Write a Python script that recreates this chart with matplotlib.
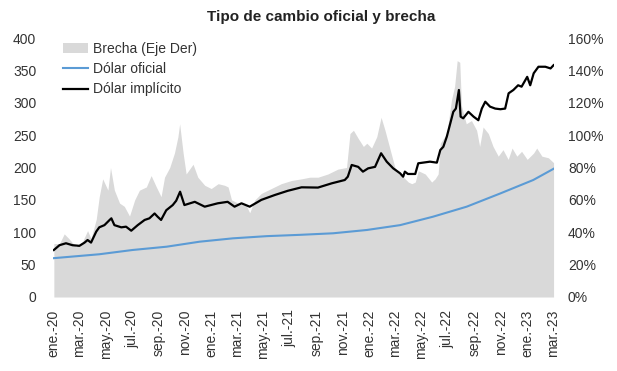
import matplotlib
matplotlib.use('Agg')
import matplotlib.pyplot as plt
from matplotlib.patches import Patch
from matplotlib.lines import Line2D
import numpy as np
import pandas as pd

plt.rcParams['font.family'] = ['Liberation Sans', 'DejaVu Sans']

# brecha (% sobre el oficial, eje derecho)
brecha_fechas = [
    '2020-01-02', '2020-01-15', '2020-01-26', '2020-02-06', '2020-02-22', '2020-03-08',
    '2020-03-20', '2020-03-28', '2020-04-09', '2020-04-16', '2020-04-24', '2020-05-06',
    '2020-05-12', '2020-05-21', '2020-06-02', '2020-06-13', '2020-06-25', '2020-07-07',
    '2020-07-18', '2020-08-03', '2020-08-14', '2020-08-26', '2020-09-06', '2020-09-14',
    '2020-09-26', '2020-10-07', '2020-10-15', '2020-10-19', '2020-10-27', '2020-11-03',
    '2020-11-19', '2020-11-30', '2020-12-16', '2020-12-31', '2021-01-16', '2021-01-31',
    '2021-02-08', '2021-02-16', '2021-03-03', '2021-03-23', '2021-03-30', '2021-04-11',
    '2021-04-26', '2021-05-19', '2021-06-11', '2021-07-05', '2021-07-28', '2021-08-16',
    '2021-09-04', '2021-09-27', '2021-10-20', '2021-11-09', '2021-11-17', '2021-11-25',
    '2021-12-06', '2021-12-18', '2021-12-26', '2022-01-06', '2022-01-18', '2022-01-28',
    '2022-02-06', '2022-02-18', '2022-03-01', '2022-03-17', '2022-04-01', '2022-04-09',
    '2022-04-17', '2022-04-24', '2022-05-10', '2022-05-25', '2022-06-02', '2022-06-09',
    '2022-06-14', '2022-06-29', '2022-07-10', '2022-07-17', '2022-07-23', '2022-07-29',
    '2022-08-02', '2022-08-13', '2022-08-25', '2022-09-06', '2022-09-13', '2022-09-21',
    '2022-10-03', '2022-10-14', '2022-10-26', '2022-11-06', '2022-11-18', '2022-11-27',
    '2022-12-08', '2022-12-19', '2023-01-01', '2023-01-16', '2023-01-23', '2023-02-04',
    '2023-02-19', '2023-03-03',
]
brecha = [
    33, 33, 39, 36, 31, 34,
    41, 36, 48, 62, 73, 66,
    80, 66, 58, 56, 50, 60,
    66, 68, 75, 68, 62, 74,
    80, 89, 99, 107, 89, 76,
    82, 74, 69, 67, 70, 69,
    68, 60, 58, 56, 52, 60,
    64, 67, 70, 72, 73, 74,
    74, 76, 79, 80, 101, 103,
    98, 93, 95, 92, 99, 111,
    103, 91, 80, 75, 71, 70,
    71, 78, 76, 71, 73, 76,
    95, 101, 122, 130, 146, 145,
    118, 107, 109, 103, 93, 105,
    101, 93, 87, 91, 85, 92,
    87, 90, 85, 89, 92, 87,
    86, 83,
]

# dólar oficial
oficial_fechas = [
    '2020-01-02', '2020-04-16', '2020-07-02', '2020-09-19', '2020-12-04', '2021-02-19',
    '2021-05-09', '2021-07-24', '2021-10-09', '2021-12-26', '2022-03-13', '2022-05-28',
    '2022-08-14', '2022-10-31', '2023-01-15', '2023-03-03',
]
oficial = [60, 66, 72.6, 77.7, 85.4, 90.6, 94, 96, 98.4, 103.5, 111, 124, 139.5, 160, 180.7, 198]

# dólar implícito
implicito_fechas = [
    '2020-01-02', '2020-01-15', '2020-01-30', '2020-02-14', '2020-03-01', '2020-03-13',
    '2020-03-20', '2020-03-28', '2020-04-09', '2020-04-16', '2020-04-28', '2020-05-10',
    '2020-05-14', '2020-05-21', '2020-06-06', '2020-06-17', '2020-06-29', '2020-07-14',
    '2020-07-30', '2020-08-10', '2020-08-22', '2020-08-29', '2020-09-06', '2020-09-18',
    '2020-10-03', '2020-10-11', '2020-10-20', '2020-10-30', '2020-11-23', '2020-12-16',
    '2021-01-15', '2021-02-07', '2021-02-23', '2021-03-11', '2021-03-30', '2021-04-26',
    '2021-05-27', '2021-06-26', '2021-07-28', '2021-09-04', '2021-10-06', '2021-11-05',
    '2021-11-12', '2021-11-21', '2021-12-06', '2021-12-17', '2021-12-29', '2022-01-14',
    '2022-01-28', '2022-02-10', '2022-02-25', '2022-03-13', '2022-03-20', '2022-03-24',
    '2022-03-31', '2022-04-17', '2022-04-24', '2022-05-21', '2022-06-06', '2022-06-14',
    '2022-06-21', '2022-06-29', '2022-07-07', '2022-07-14', '2022-07-20', '2022-07-27',
    '2022-07-31', '2022-08-06', '2022-08-18', '2022-08-30', '2022-09-10', '2022-09-18',
    '2022-09-26', '2022-10-07', '2022-10-19', '2022-10-31', '2022-11-11', '2022-11-19',
    '2022-11-30', '2022-12-11', '2022-12-19', '2023-01-01', '2023-01-08', '2023-01-16',
    '2023-01-27', '2023-02-12', '2023-02-24', '2023-03-03',
]
implicito = [
    72.6, 80, 83, 80, 79, 84,
    88, 84, 101, 107.6, 111, 119,
    121.5, 111, 107.6, 108.6, 102.4, 111,
    119, 121.5, 129, 124, 119, 134,
    142, 148.7, 162.6, 142, 147, 139.5,
    144.7, 147, 139.5, 144.7, 139.5, 150,
    157.5, 164, 169.4, 169, 175.6, 180.7,
    185.8, 203.9, 201, 193.6, 198.7, 201,
    222, 209, 198.7, 191, 185.8, 193.6,
    190, 190, 206.5, 209, 207.5, 227,
    232, 247.6, 268, 286, 291, 319.7,
    278.5, 276, 286, 278.5, 273, 291,
    301.6, 294, 291, 290, 291, 314.6,
    319.7, 327, 324.8, 340, 327, 345.5,
    355.6, 355.6, 353, 358,
]

meses = ['ene.', 'feb.', 'mar.', 'abr.', 'may.', 'jun.', 'jul.', 'ago.', 'sep.', 'oct.', 'nov.', 'dic.']
ticks_x = pd.date_range('2020-01-01', '2023-03-01', freq='2MS')
gris = '#d9d9d9'
azul = '#5b9bd5'
texto = '#333333'

fig = plt.figure(figsize=(6.17, 3.71), dpi=100)
ax = fig.add_axes([53 / 617, 1 - 297 / 371, 501 / 617, 259 / 371])
ax2 = ax.twinx()

# brecha en el eje derecho, detrás de las líneas
ax2.fill_between(pd.to_datetime(brecha_fechas), 0, brecha, color=gris, linewidth=0)
ax2.set_ylim(0, 160)
ax2.set_yticks(np.arange(0, 161, 20))
ax2.set_yticklabels([f'{v}%' for v in range(0, 161, 20)])

ax.set_zorder(ax2.get_zorder() + 1)
ax.patch.set_visible(False)
ax.plot(pd.to_datetime(oficial_fechas), oficial, color=azul, lw=1.5)
ax.plot(pd.to_datetime(implicito_fechas), implicito, color='black', lw=1.6)
ax.set_ylim(0, 400)
ax.set_yticks(np.arange(0, 401, 50))

ax.set_xlim(pd.Timestamp('2019-12-31'), pd.Timestamp('2023-03-04'))
ax.set_xticks(ticks_x)
ax.set_xticklabels([f'{meses[d.month - 1]}-{d.year % 100:02d}' for d in ticks_x], rotation=90)

for a in (ax, ax2):
    for s in a.spines.values():
        s.set_visible(False)
    a.tick_params(length=0, labelsize=10, labelcolor=texto)
ax.tick_params(axis='y', pad=12)
ax.tick_params(axis='x', pad=9)
ax2.tick_params(axis='y', pad=10)

handles = [
    Patch(facecolor=gris, edgecolor='none'),
    Line2D([], [], color=azul, lw=1.5),
    Line2D([], [], color='black', lw=1.6),
]
ax.legend(handles, ['Brecha (Eje Der)', 'Dólar oficial', 'Dólar implícito'],
          loc='upper left', bbox_to_anchor=(-0.004, 1.033), frameon=False, fontsize=10,
          handlelength=1.8, handletextpad=0.35, labelspacing=0.45, labelcolor=texto)

fig.text(0.52, 0.955, 'Tipo de cambio oficial y brecha', ha='center', va='center',
         fontsize=11, fontweight='bold', color='#222222')

fig.savefig('out.png', dpi=100)
